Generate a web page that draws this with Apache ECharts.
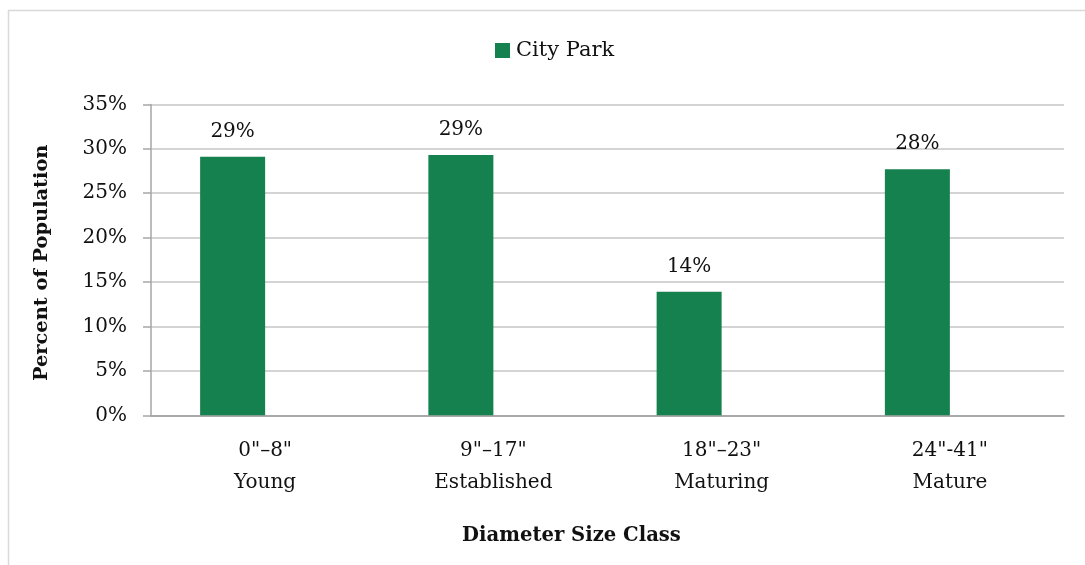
<!DOCTYPE html>
<html>
<head>
<meta charset="utf-8">
<script src="https://cdn.jsdelivr.net/npm/echarts@6/dist/echarts.min.js"></script>
<style>html,body{margin:0;padding:0;background:#fff}#c{width:1085px;height:565px}</style>
</head>
<body>
<div id="c"></div>
<script>
const categories = ['0"–8"\nYoung', '9"–17"\nEstablished', '18"–23"\nMaturing', '24"-41"\nMature'];
const cityPark = [29.1, 29.3, 13.9, 27.7];
const seriesName = 'City Park';
const yTicks = {min: 0, max: 35, interval: 5};

const FONT = 'DejaVu Serif';
const chart = echarts.init(document.getElementById('c'), null, {renderer: 'canvas'});
chart.setOption({
  animation: false,
  backgroundColor: '#fff',
  graphic: [{
    type: 'rect', shape: {x: 8.5, y: 10.5, width: 1200, height: 700},
    style: {fill: 'none', stroke: '#d9d9d9', lineWidth: 1.5}, silent: true
  }],
  legend: {
    data: [seriesName], left: 495, top: 40, padding: 0, itemWidth: 15, itemHeight: 15, itemGap: 10,
    textStyle: {fontFamily: FONT, fontSize: 21, color: '#111', padding: [0, 0, 0, 1]}, icon: 'rect'
  },
  grid: {left: 151, right: 21, top: 104.4, bottom: 149.7, containLabel: false},
  xAxis: {
    type: 'category', data: categories,
    axisLine: {show: true, lineStyle: {color: '#9a9a9a', width: 1.5}},
    axisTick: {show: false},
    axisLabel: {fontFamily: FONT, fontSize: 20, color: '#111', lineHeight: 32, margin: 19, interval: 0},
    name: 'Diameter Size Class', nameLocation: 'middle', nameGap: 111,
    nameTextStyle: {fontFamily: FONT, fontSize: 19.6, fontWeight: 'bold', color: '#111', padding: [0, 72, 0, 0]}
  },
  yAxis: {
    type: 'value', min: yTicks.min, max: yTicks.max, interval: yTicks.interval,
    axisLine: {show: true, lineStyle: {color: '#a6a6a6', width: 1.5}},
    axisTick: {show: true, length: 8, lineStyle: {color: '#a6a6a6', width: 1.5}},
    axisLabel: {fontFamily: FONT, fontSize: 20, color: '#111', margin: 24, formatter: '{value}%'},
    splitLine: {show: true, lineStyle: {color: '#c6c6c6', width: 1.5}},
    name: 'Percent of Population', nameLocation: 'middle', nameGap: 100,
    nameTextStyle: {fontFamily: FONT, fontSize: 19.4, fontWeight: 'bold', color: '#111', padding: [0, 6, 0, 0]}
  },
  series: [{
    name: seriesName, type: 'bar', data: cityPark, barWidth: 65, barGap: '0%',
    itemStyle: {color: '#14814e'},
    label: {show: true, position: 'top', distance: 15, fontFamily: FONT, fontSize: 20, color: '#111',
      formatter: p => Math.round(p.value) + '%'}
  }, {
    name: '', type: 'bar', data: cityPark.map(() => null), barWidth: 65, barGap: '0%'
  }]
});
</script>
</body>
</html>
